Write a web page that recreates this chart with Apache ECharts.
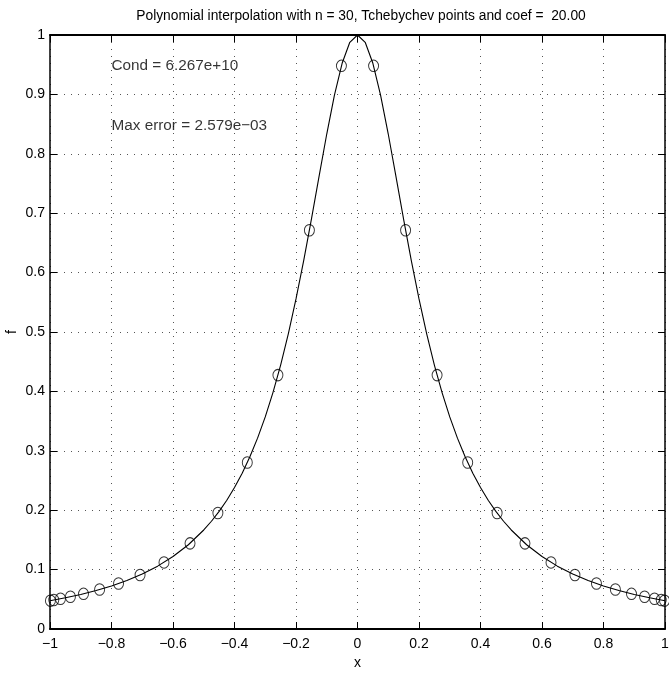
<!DOCTYPE html>
<html><head><meta charset="utf-8">
<script src="https://cdn.jsdelivr.net/npm/echarts@6/dist/echarts.min.js"></script>
<style>html,body{margin:0;padding:0;background:#fff}#c{width:669px;height:673px}</style>
</head><body><div id="c"></div>
<script>
const titleText = 'Polynomial interpolation with n = 30, Tchebychev points and coef =  20.00';
const xTicks = [-1, -0.8, -0.6, -0.4, -0.2, 0, 0.2, 0.4, 0.6, 0.8, 1];
const yTicks = [0, 0.1, 0.2, 0.3, 0.4, 0.5, 0.6, 0.7, 0.8, 0.9, 1];
// curve
const curveX = [-1, -0.95, -0.9, -0.85, -0.8, -0.75, -0.7, -0.65, -0.6, -0.55, -0.5, -0.475, -0.45, -0.425, -0.4, -0.375, -0.35, -0.325, -0.3, -0.275, -0.25, -0.225, -0.2, -0.175, -0.15, -0.125, -0.1, -0.075, -0.05, -0.025, 0,
  0.025, 0.05, 0.075, 0.1, 0.125, 0.15, 0.175, 0.2, 0.225, 0.25, 0.275, 0.3, 0.325, 0.35, 0.375, 0.4, 0.425, 0.45, 0.475, 0.5, 0.55, 0.6, 0.65, 0.7, 0.75, 0.8, 0.85, 0.9, 0.95, 1];
const curveY = [0.0476, 0.0525, 0.0581, 0.0647, 0.0725, 0.0816, 0.0926, 0.1058, 0.1220, 0.1418, 0.1667, 0.1814, 0.1980, 0.2168, 0.2381, 0.2623, 0.2899, 0.3213, 0.3571, 0.3980, 0.4444, 0.4969, 0.5556, 0.6202, 0.6897, 0.7619, 0.8333, 0.8989, 0.9524, 0.9877, 1.0,
  0.9877, 0.9524, 0.8989, 0.8333, 0.7619, 0.6897, 0.6202, 0.5556, 0.4969, 0.4444, 0.3980, 0.3571, 0.3213, 0.2899, 0.2623, 0.2381, 0.2168, 0.1980, 0.1814, 0.1667, 0.1418, 0.1220, 0.1058, 0.0926, 0.0816, 0.0725, 0.0647, 0.0581, 0.0525, 0.0476];
// interpolation nodes (circles)
const nodeX = [-0.9986, -0.9877, -0.9659, -0.9336, -0.8910, -0.8387, -0.7771, -0.7071, -0.6293, -0.5446, -0.4540, -0.3584, -0.2588, -0.1564, -0.0523,
  0.0523, 0.1564, 0.2588, 0.3584, 0.4540, 0.5446, 0.6293, 0.7071, 0.7771, 0.8387, 0.8910, 0.9336, 0.9659, 0.9877, 0.9986];
const nodeY = [0.0477, 0.0488, 0.0509, 0.0543, 0.0592, 0.0664, 0.0765, 0.0909, 0.1121, 0.1442, 0.1952, 0.2802, 0.4274, 0.6714, 0.9481,
  0.9481, 0.6714, 0.4274, 0.2802, 0.1952, 0.1442, 0.1121, 0.0909, 0.0765, 0.0664, 0.0592, 0.0543, 0.0509, 0.0488, 0.0477];
const noteX = [-0.8, -0.8];
const noteY = [0.948, 0.848];
const noteText = ['Cond = 6.267e+10', 'Max error = 2.579e\u221203'];

const font = '"Liberation Sans", Arial, Helvetica, sans-serif';
const titleSize = 13.8;
const noteSize = 15.3;
const tickSize = 14;

const fmt = v => { const s = String(Math.round(v * 10) / 10); return s.replace('-', '\u2212'); };
const chart = echarts.init(document.getElementById('c'), null, {renderer: 'canvas'});
const gridDots = {show: true, lineStyle: {color: '#555', type: [1, 6], width: 1}};
const baseX = {type: 'value', min: -1, max: 1, interval: 0.2,
  axisLine: {show: true, onZero: false, lineStyle: {color: '#000', width: 2}},
  axisTick: {show: true, inside: true, length: 7, lineStyle: {color: '#000'}},
  splitLine: {show: false}};
const baseY = {type: 'value', min: 0, max: 1, interval: 0.1,
  axisLine: {show: true, onZero: false, lineStyle: {color: '#000', width: 1.5}},
  axisTick: {show: true, inside: true, length: 7, lineStyle: {color: '#000'}},
  splitLine: {show: false}};
chart.setOption({
  animation: false,
  title: {text: titleText, left: 356, top: 4, textAlign: 'center',
    textStyle: {fontFamily: font, fontSize: titleSize, fontWeight: 'normal', color: '#000'}},
  grid: {left: 50, right: 4, top: 35, bottom: 44, containLabel: false, outerBoundsMode: 'none'},
  xAxis: [
    Object.assign({}, baseX, {position: 'bottom', name: 'x', nameLocation: 'middle', nameGap: 27, nameMoveOverlap: false,
      nameTextStyle: {fontFamily: font, fontSize: tickSize, color: '#000'},
      axisLabel: {show: true, margin: 8, color: '#000', fontFamily: font, fontSize: tickSize, formatter: fmt},
      splitLine: gridDots}),
    Object.assign({}, baseX, {position: 'top', axisLabel: {show: false}})
  ],
  yAxis: [
    Object.assign({}, baseY, {position: 'left', name: 'f', nameLocation: 'middle', nameGap: 31, nameRotate: 90, nameMoveOverlap: false,
      nameTextStyle: {fontFamily: font, fontSize: tickSize, color: '#000'},
      axisLabel: {show: true, margin: 5, color: '#000', fontFamily: font, fontSize: tickSize, formatter: fmt},
      splitLine: gridDots}),
    Object.assign({}, baseY, {position: 'right', axisLabel: {show: false}})
  ],
  series: [
    {type: 'line', data: curveX.map((x, i) => [x, curveY[i]]), showSymbol: false, symbol: 'none',
      lineStyle: {color: '#000', width: 1.1}, z: 3},
    {type: 'scatter', data: nodeX.map((x, i) => [x, nodeY[i]]), symbol: 'circle', symbolSize: [10, 11.5],
      itemStyle: {color: 'rgba(0,0,0,0)', borderColor: '#000', borderWidth: 1}, z: 4},
    {type: 'scatter', data: noteX.map((x, i) => ({value: [x, noteY[i]], label: {formatter: noteText[i]}})), symbolSize: 0,
      label: {show: true, position: 'right', distance: 0, color: '#000', fontFamily: font, fontSize: noteSize}, z: 5}
  ]
});
</script></body></html>
